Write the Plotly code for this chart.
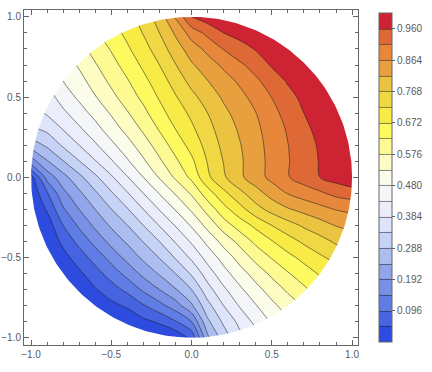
import numpy as np
import plotly.graph_objects as go

x_values = [round(-1 + 0.1 * i, 1) for i in range(21)]
y_values = [round(1 - 0.1 * i, 1) for i in range(21)]

z_rows = [
    [.53,.56,.59,.62,.65,.68,.70,.74,.79,.87,.96,.985,.99,1,1,1,1,1,1,1,1],
    [.50,.53,.56,.59,.62,.65,.685,.723,.768,.823,.885,.925,.96,.975,.985,.99,1,1,1,1,1],
    [.47,.50,.53,.56,.594,.628,.665,.702,.744,.793,.84,.877,.914,.943,.963,.985,.995,1,1,1,1],
    [.44,.46,.50,.535,.572,.607,.643,.681,.72,.766,.81,.842,.873,.903,.932,.965,.985,.995,1,1,1],
    [.41,.44,.48,.51,.551,.586,.62,.659,.697,.74,.783,.815,.844,.872,.903,.935,.965,.985,.995,1,1],
    [.38,.41,.454,.489,.525,.563,.599,.636,.677,.716,.755,.79,.823,.85,.88,.913,.945,.972,.99,1,1],
    [.36,.39,.422,.459,.495,.533,.572,.611,.655,.695,.73,.768,.805,.834,.863,.897,.929,.96,.985,1,1],
    [.325,.347,.386,.424,.463,.504,.543,.584,.628,.672,.711,.752,.791,.822,.853,.887,.917,.948,.975,.99,1],
    [.26,.297,.343,.384,.425,.468,.51,.553,.598,.644,.689,.737,.78,.813,.847,.881,.911,.943,.965,.985,1],
    [.17,.236,.286,.334,.381,.427,.474,.521,.568,.615,.662,.723,.77,.808,.844,.878,.909,.936,.963,.985,1],
    [.03,.162,.223,.275,.326,.377,.429,.48,.532,.583,.635,.71,.761,.806,.843,.877,.909,.935,.96,.98,1],
    [.01,.09,.178,.23,.28,.33,.38,.432,.482,.532,.582,.65,.707,.755,.796,.835,.866,.886,.904,.925,.935],
    [0,.053,.138,.192,.24,.287,.332,.384,.434,.483,.535,.593,.655,.702,.75,.784,.811,.83,.848,.866,.875],
    [0,.02,.096,.152,.202,.247,.287,.336,.386,.435,.485,.543,.60,.645,.683,.72,.749,.775,.796,.818,.83],
    [0,.01,.06,.111,.16,.207,.247,.29,.336,.388,.438,.493,.545,.59,.635,.669,.70,.728,.751,.775,.79],
    [0,0,.03,.072,.115,.162,.207,.25,.29,.34,.393,.45,.499,.547,.591,.627,.658,.686,.712,.735,.75],
    [0,0,.005,.038,.077,.117,.16,.205,.245,.288,.342,.408,.462,.507,.548,.586,.62,.649,.677,.69,.70],
    [0,0,0,.012,.044,.075,.108,.152,.192,.236,.288,.365,.423,.47,.512,.549,.584,.615,.645,.66,.67],
    [0,0,0,0,.012,.035,.055,.092,.128,.169,.232,.32,.384,.436,.477,.516,.55,.58,.60,.63,.65],
    [0,0,0,0,0,0,.01,.035,.055,.092,.144,.278,.345,.397,.445,.485,.52,.55,.58,.60,.62],
    [0,0,0,0,0,0,0,0,0,.01,.06,.23,.31,.37,.41,.45,.49,.52,.55,.58,.60],
]

band_colors = [
    "rgb(45,75,222)", "rgb(70,100,225)", "rgb(95,125,228)", "rgb(120,145,230)",
    "rgb(145,165,235)", "rgb(172,190,240)", "rgb(198,210,246)", "rgb(222,228,250)",
    "rgb(235,238,250)", "rgb(245,246,248)", "rgb(252,252,235)", "rgb(253,252,195)",
    "rgb(253,250,145)", "rgb(253,250,95)", "rgb(248,235,70)", "rgb(240,215,68)",
    "rgb(235,195,65)", "rgb(232,160,62)", "rgb(230,135,60)", "rgb(222,105,55)",
    "rgb(205,35,50)",
]
level_step = 0.048
level_first = 0.048
level_last = 0.96
z_low = 0.0
z_high = 1.008
bar_ticks = [0.096, 0.192, 0.288, 0.384, 0.48, 0.576, 0.672, 0.768, 0.864, 0.96]
bar_labels = ["0.096", "0.192", "0.288", "0.384", "0.480", "0.576", "0.672", "0.768", "0.864", "0.960"]
axis_ticks = [-1.0, -0.5, 0.0, 0.5, 1.0]

n = len(band_colors)
scale = []
for k, c in enumerate(band_colors):
    scale.append([k / n, c])
    scale.append([(k + 1) / n, c])

TEXT = "#5a5a5a"
FRAME = "#666666"
FONT = "Liberation Sans"

x_range = [-1.044, 1.037]
y_range = [-1.045, 1.043]

fig = go.Figure()
fig.add_trace(go.Contour(
    x=x_values, y=y_values[::-1], z=z_rows[::-1],
    zmin=z_low, zmax=z_high, colorscale=scale, autocontour=False,
    contours=dict(start=level_first, end=level_last, size=level_step,
                  coloring="fill", showlines=True),
    line=dict(color="rgba(30,30,30,0.6)", width=0.9, smoothing=1.0),
    hoverinfo="skip",
    colorbar=dict(
        thicknessmode="pixels", thickness=13, lenmode="pixels", len=329,
        x=1.063, xanchor="left", xpad=0, y=0.991, yanchor="top", ypad=0,
        tickmode="array", tickvals=bar_ticks, ticktext=bar_labels,
        ticks="outside", ticklen=3, tickwidth=1, tickcolor=FRAME,
        outlinecolor=FRAME, outlinewidth=1,
        tickfont=dict(family=FONT, size=10, color=TEXT),
    ),
))

# white surround that trims the field to the unit disk (keyhole polygon)
t = np.linspace(0, 2 * np.pi, 361)
mx = [2, 2, -2, -2, 2, 2] + list(np.cos(t)) + [2]
my = [0, 2, 2, -2, -2, 0] + list(-np.sin(t)) + [0]
fig.add_trace(go.Scatter(x=mx, y=my, mode="lines", fill="toself",
                         fillcolor="white", line=dict(width=0, color="white"),
                         hoverinfo="skip", showlegend=False))

axis_common = dict(
    tickmode="array", tickvals=axis_ticks, tickformat=".1f",
    ticks="inside", ticklen=5, tickwidth=1, tickcolor=FRAME,
    showline=True, linecolor=FRAME, linewidth=1, mirror="ticks",
    showgrid=False, zeroline=False,
    tickfont=dict(family=FONT, size=10, color=TEXT),
    minor=dict(dtick=0.1, ticks="inside", ticklen=3, tickwidth=1,
               tickcolor=FRAME, showgrid=False),
)
fig.update_layout(
    width=432, height=372,
    margin=dict(l=24, r=74, t=10, b=27, autoexpand=False),
    paper_bgcolor="white", plot_bgcolor="white", showlegend=False,
    xaxis=dict(range=x_range, **axis_common),
    yaxis=dict(range=y_range, **axis_common),
)
fig.write_html("out.html", config={"displayModeBar": False},
               post_script="document.body.style.margin='0';document.body.style.overflow='hidden';")
